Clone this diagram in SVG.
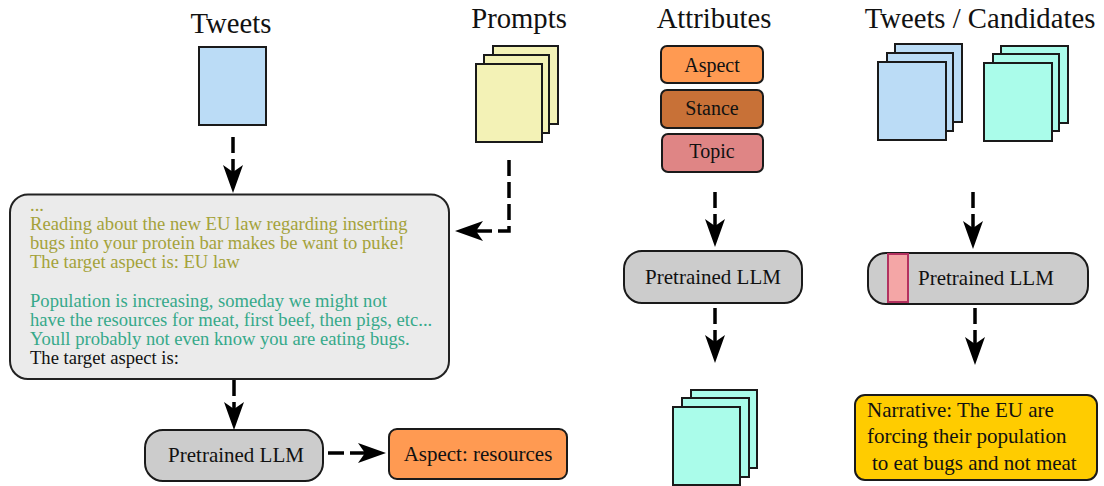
<svg xmlns="http://www.w3.org/2000/svg" width="1104" height="486" viewBox="0 0 1104 486">
<defs>
<style>
text{font-family:"Liberation Serif","Times New Roman",serif;fill:#111}
.title{font-size:28.7px}
.lbl{font-size:21px}
.attr{font-size:20px}
.body{font-size:18.6px}
.olive{fill:#a4a23a}
.teal{fill:#36a98a}
.pg{stroke:#1a1a1a;stroke-width:2}
.blue{fill:#bbdcf6}
.yel{fill:#f3f2b6}
.cyan{fill:#aafcea}
.llm{fill:#cccccc;stroke:#1a1a1a;stroke-width:2}
.conn{fill:none;stroke:#000;stroke-width:3.5;stroke-dasharray:16 6}
</style>
<marker id="ah" markerUnits="userSpaceOnUse" viewBox="0 0 28 20" refX="7" refY="10" markerWidth="28" markerHeight="20" orient="auto">
<path d="M0,0 L28,10 L0,20 L7,10 Z" fill="#000"/>
</marker>
</defs>
<rect width="1104" height="486" fill="#fff"/>

<g id="tweets">
<text class="title" x="231" y="33" text-anchor="middle">Tweets</text>
<rect class="pg blue" x="199" y="47" width="67" height="78"/>
</g>

<g id="prompts">
<text class="title" x="519" y="28" text-anchor="middle">Prompts</text>
<rect class="pg yel" x="493" y="46" width="65" height="78"/>
<rect class="pg yel" x="484" y="55" width="65" height="78"/>
<rect class="pg yel" x="476" y="64" width="66" height="78"/>
</g>

<g id="prompt-box">
<rect x="10" y="194.5" width="439" height="184.5" rx="18" fill="#ebebeb" stroke="#222" stroke-width="2"/>
<text class="body olive" x="30" y="211">...</text>
<text class="body olive" x="30" y="230">Reading about the new EU law regarding inserting</text>
<text class="body olive" x="30" y="249.2">bugs into your protein bar makes be want to puke!</text>
<text class="body olive" x="30" y="268.4">The target aspect is: EU law</text>
<text class="body teal" x="30" y="306.8">Population is increasing, someday we might not</text>
<text class="body teal" x="30" y="326">have the resources for meat, first beef, then pigs, etc...</text>
<text class="body teal" x="30" y="345.2">Youll probably not even know you are eating bugs.</text>
<text class="body" x="30" y="364.4">The target aspect is:</text>
</g>

<g id="llm-left">
<rect class="llm" x="145" y="430" width="178" height="51" rx="18"/>
<text class="lbl" x="236" y="462" text-anchor="middle">Pretrained LLM</text>
</g>

<g id="aspect-result">
<rect x="389" y="429" width="178" height="50" rx="8" fill="#ff9a52" stroke="#1a1a1a" stroke-width="2"/>
<text class="lbl" x="478" y="461" text-anchor="middle">Aspect: resources</text>
</g>

<g id="attributes">
<text class="title" x="714" y="28" text-anchor="middle">Attributes</text>
<rect x="661" y="46" width="102" height="37" rx="6" fill="#ff9a52" stroke="#1a1a1a" stroke-width="2"/>
<text class="attr" x="712" y="72" text-anchor="middle">Aspect</text>
<rect x="661" y="90" width="102" height="38" rx="6" fill="#c87137" stroke="#1a1a1a" stroke-width="2"/>
<text class="attr" x="712" y="115" text-anchor="middle">Stance</text>
<rect x="662" y="134" width="101" height="38" rx="6" fill="#df8585" stroke="#1a1a1a" stroke-width="2"/>
<text class="attr" x="712" y="158" text-anchor="middle">Topic</text>
</g>

<g id="llm-mid">
<rect class="llm" x="624" y="251" width="178" height="52" rx="18"/>
<text class="lbl" x="713" y="284" text-anchor="middle">Pretrained LLM</text>
</g>

<g id="generated">
<rect class="pg cyan" x="691" y="390" width="66" height="78"/>
<rect class="pg cyan" x="682" y="398" width="67" height="79"/>
<rect class="pg cyan" x="673" y="407" width="67" height="78"/>
</g>

<g id="tweets-candidates">
<text class="title" x="980" y="28" text-anchor="middle">Tweets / Candidates</text>
<rect class="pg blue" x="895" y="44" width="67" height="78"/>
<rect class="pg blue" x="887" y="53" width="66" height="78"/>
<rect class="pg blue" x="878" y="62" width="68" height="78"/>
<rect class="pg cyan" x="1001" y="46" width="67" height="77"/>
<rect class="pg cyan" x="993" y="54" width="66" height="77"/>
<rect class="pg cyan" x="984" y="63" width="68" height="78"/>
</g>

<g id="llm-right">
<rect class="llm" x="868" y="253" width="220" height="51" rx="18"/>
<rect x="888" y="254" width="20" height="48" fill="#f4a6a6" stroke="#b3315f" stroke-width="2"/>
<text class="lbl" x="918" y="285">Pretrained LLM</text>
</g>

<g id="narrative">
<rect x="855" y="395" width="242" height="85" rx="10" fill="#ffcc00" stroke="#1a1a1a" stroke-width="2"/>
<text class="lbl" x="867" y="417">Narrative: The EU are</text>
<text class="lbl" x="867" y="443">forcing their population</text>
<text class="lbl" x="872" y="470">to eat bugs and not meat</text>
</g>

<g id="connectors">
<line class="conn" x1="233" y1="137" x2="233" y2="172" marker-end="url(#ah)"/>
<polyline class="conn" points="509,160 509,231 476,231" marker-end="url(#ah)"/>
<line class="conn" x1="234" y1="380" x2="234" y2="409" marker-end="url(#ah)"/>
<line class="conn" x1="328" y1="453" x2="365" y2="453" marker-end="url(#ah)"/>
<line class="conn" x1="715" y1="192" x2="715" y2="226" marker-end="url(#ah)"/>
<line class="conn" x1="715" y1="308" x2="715" y2="342" marker-end="url(#ah)"/>
<line class="conn" x1="973" y1="192" x2="973" y2="228" marker-end="url(#ah)"/>
<line class="conn" x1="975" y1="308" x2="975" y2="344" marker-end="url(#ah)"/>
</g>
</svg>
